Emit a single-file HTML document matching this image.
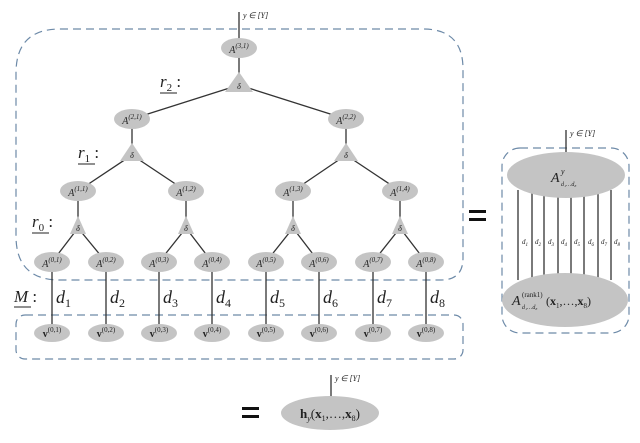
<!DOCTYPE html>
<html><head><meta charset="utf-8"><style>
html,body{margin:0;padding:0;background:#fff;}
svg{display:block;font-family:"Liberation Serif",serif;}
.e{fill:#c4c4c4;}
.l{stroke:#333;stroke-width:1.3;fill:none;}
.d{fill:none;stroke:#6d8aa8;stroke-width:1.2;stroke-dasharray:8,5;}
.t{font-style:italic;fill:#222;}
</style></head><body>
<svg width="640" height="443" viewBox="0 0 640 443" xmlns="http://www.w3.org/2000/svg">
<path class="d" d="M60,29 H423 Q463,29 463,69 V258 Q463,280 441,280 H60 Q16,280 16,236 V73 Q16,29 60,29 Z"/>
<rect class="d" x="16" y="315" width="447" height="44" rx="9"/>
<rect class="d" x="502" y="148" width="127" height="185" rx="18"/>
<g class="l">
<line x1="239" y1="12" x2="239" y2="85"/>
<line x1="239" y1="85" x2="132" y2="119"/><line x1="239" y1="85" x2="346" y2="119"/>
<line x1="132" y1="119" x2="132" y2="155"/><line x1="346" y1="119" x2="346" y2="155"/>
<line x1="132" y1="155" x2="78" y2="191"/><line x1="132" y1="155" x2="186" y2="191"/>
<line x1="346" y1="155" x2="293" y2="191"/><line x1="346" y1="155" x2="400" y2="191"/>
<line x1="78" y1="191" x2="78" y2="228"/><line x1="186" y1="191" x2="186" y2="228"/>
<line x1="293" y1="191" x2="293" y2="228"/><line x1="400" y1="191" x2="400" y2="228"/>
<line x1="78" y1="228" x2="52" y2="262"/><line x1="78" y1="228" x2="106" y2="262"/>
<line x1="186" y1="228" x2="159" y2="262"/><line x1="186" y1="228" x2="212" y2="262"/>
<line x1="293" y1="228" x2="266" y2="262"/><line x1="293" y1="228" x2="319" y2="262"/>
<line x1="400" y1="228" x2="373" y2="262"/><line x1="400" y1="228" x2="426" y2="262"/>
<line x1="52" y1="262" x2="52" y2="333"/><line x1="106" y1="262" x2="106" y2="333"/>
<line x1="159" y1="262" x2="159" y2="333"/><line x1="212" y1="262" x2="212" y2="333"/>
<line x1="266" y1="262" x2="266" y2="333"/><line x1="319" y1="262" x2="319" y2="333"/>
<line x1="373" y1="262" x2="373" y2="333"/><line x1="426" y1="262" x2="426" y2="333"/>
<line x1="566" y1="130" x2="566" y2="158"/>
<line x1="518" y1="190" x2="518" y2="280"/><line x1="532" y1="190" x2="532" y2="280"/>
<line x1="544" y1="190" x2="544" y2="280"/><line x1="558" y1="190" x2="558" y2="280"/>
<line x1="571" y1="190" x2="571" y2="280"/><line x1="584" y1="190" x2="584" y2="280"/>
<line x1="598" y1="190" x2="598" y2="280"/><line x1="611" y1="190" x2="611" y2="280"/>
<line x1="331" y1="375" x2="331" y2="397"/>
</g>
<g class="e">
<polygon points="239,72 225,92 253,92"/>
<polygon points="132,143 120,161 144,161"/><polygon points="346,143 334,161 358,161"/>
<polygon points="78,216 70,234 86,234"/><polygon points="186,216 178,234 194,234"/>
<polygon points="293,216 285,234 301,234"/><polygon points="400,216 392,234 408,234"/>
</g>
<g font-size="8" class="t" text-anchor="middle">
<text x="239" y="89">δ</text><text x="132" y="158">δ</text><text x="346" y="158">δ</text>
<text x="78" y="231">δ</text><text x="186" y="231">δ</text><text x="293" y="231">δ</text><text x="400" y="231">δ</text>
</g>
<g class="e">
<ellipse cx="239" cy="48" rx="18" ry="10"/>
<ellipse cx="132" cy="119" rx="18" ry="10"/><ellipse cx="346" cy="119" rx="18" ry="10"/>
<ellipse cx="78" cy="191" rx="18" ry="10"/><ellipse cx="186" cy="191" rx="18" ry="10"/>
<ellipse cx="293" cy="191" rx="18" ry="10"/><ellipse cx="400" cy="191" rx="18" ry="10"/>
<ellipse cx="52" cy="262" rx="18" ry="10"/><ellipse cx="106" cy="262" rx="18" ry="10"/>
<ellipse cx="159" cy="262" rx="18" ry="10"/><ellipse cx="212" cy="262" rx="18" ry="10"/>
<ellipse cx="266" cy="262" rx="18" ry="10"/><ellipse cx="319" cy="262" rx="18" ry="10"/>
<ellipse cx="373" cy="262" rx="18" ry="10"/><ellipse cx="426" cy="262" rx="18" ry="10"/>
<ellipse cx="52" cy="333" rx="18" ry="9"/><ellipse cx="106" cy="333" rx="18" ry="9"/>
<ellipse cx="159" cy="333" rx="18" ry="9"/><ellipse cx="212" cy="333" rx="18" ry="9"/>
<ellipse cx="266" cy="333" rx="18" ry="9"/><ellipse cx="319" cy="333" rx="18" ry="9"/>
<ellipse cx="373" cy="333" rx="18" ry="9"/><ellipse cx="426" cy="333" rx="18" ry="9"/>
<ellipse cx="566" cy="175" rx="59" ry="23"/>
<ellipse cx="565" cy="300" rx="63" ry="27"/>
<ellipse cx="330" cy="413" rx="49" ry="17"/>
</g>
<g font-size="10" class="t" text-anchor="middle">
<text x="239" y="53">A<tspan font-size="7" dy="-5">(3,1)</tspan></text>
<text x="132" y="124">A<tspan font-size="7" dy="-5">(2,1)</tspan></text>
<text x="346" y="124">A<tspan font-size="7" dy="-5">(2,2)</tspan></text>
<text x="78" y="196">A<tspan font-size="7" dy="-5">(1,1)</tspan></text>
<text x="186" y="196">A<tspan font-size="7" dy="-5">(1,2)</tspan></text>
<text x="293" y="196">A<tspan font-size="7" dy="-5">(1,3)</tspan></text>
<text x="400" y="196">A<tspan font-size="7" dy="-5">(1,4)</tspan></text>
<text x="52" y="267">A<tspan font-size="7" dy="-5">(0,1)</tspan></text>
<text x="106" y="267">A<tspan font-size="7" dy="-5">(0,2)</tspan></text>
<text x="159" y="267">A<tspan font-size="7" dy="-5">(0,3)</tspan></text>
<text x="212" y="267">A<tspan font-size="7" dy="-5">(0,4)</tspan></text>
<text x="266" y="267">A<tspan font-size="7" dy="-5">(0,5)</tspan></text>
<text x="319" y="267">A<tspan font-size="7" dy="-5">(0,6)</tspan></text>
<text x="373" y="267">A<tspan font-size="7" dy="-5">(0,7)</tspan></text>
<text x="426" y="267">A<tspan font-size="7" dy="-5">(0,8)</tspan></text>
</g>
<g font-size="10" text-anchor="middle" fill="#222">
<text x="52" y="337"><tspan font-weight="bold">v</tspan><tspan font-size="7" dy="-5">(0,1)</tspan></text>
<text x="106" y="337"><tspan font-weight="bold">v</tspan><tspan font-size="7" dy="-5">(0,2)</tspan></text>
<text x="159" y="337"><tspan font-weight="bold">v</tspan><tspan font-size="7" dy="-5">(0,3)</tspan></text>
<text x="212" y="337"><tspan font-weight="bold">v</tspan><tspan font-size="7" dy="-5">(0,4)</tspan></text>
<text x="266" y="337"><tspan font-weight="bold">v</tspan><tspan font-size="7" dy="-5">(0,5)</tspan></text>
<text x="319" y="337"><tspan font-weight="bold">v</tspan><tspan font-size="7" dy="-5">(0,6)</tspan></text>
<text x="373" y="337"><tspan font-weight="bold">v</tspan><tspan font-size="7" dy="-5">(0,7)</tspan></text>
<text x="426" y="337"><tspan font-weight="bold">v</tspan><tspan font-size="7" dy="-5">(0,8)</tspan></text>
</g>
<g font-size="18" class="t">
<text x="56" y="303">d<tspan font-size="12" font-style="normal" dy="4">1</tspan></text>
<text x="110" y="303">d<tspan font-size="12" font-style="normal" dy="4">2</tspan></text>
<text x="163" y="303">d<tspan font-size="12" font-style="normal" dy="4">3</tspan></text>
<text x="216" y="303">d<tspan font-size="12" font-style="normal" dy="4">4</tspan></text>
<text x="270" y="303">d<tspan font-size="12" font-style="normal" dy="4">5</tspan></text>
<text x="323" y="303">d<tspan font-size="12" font-style="normal" dy="4">6</tspan></text>
<text x="377" y="303">d<tspan font-size="12" font-style="normal" dy="4">7</tspan></text>
<text x="430" y="303">d<tspan font-size="12" font-style="normal" dy="4">8</tspan></text>
</g>
<g font-size="17" class="t">
<text x="160" y="87">r<tspan font-size="11" font-style="normal" dy="4">2</tspan><tspan dy="-4" font-style="normal"> :</tspan></text>
<line x1="160" y1="93" x2="177" y2="93" stroke="#222" stroke-width="1"/>
<text x="78" y="158">r<tspan font-size="11" font-style="normal" dy="4">1</tspan><tspan dy="-4" font-style="normal"> :</tspan></text>
<line x1="78" y1="164" x2="95" y2="164" stroke="#222" stroke-width="1"/>
<text x="32" y="227">r<tspan font-size="11" font-style="normal" dy="4">0</tspan><tspan dy="-4" font-style="normal"> :</tspan></text>
<line x1="32" y1="233" x2="49" y2="233" stroke="#222" stroke-width="1"/>
<text x="14" y="302">M<tspan font-style="normal"> :</tspan></text>
<line x1="14" y1="307" x2="31" y2="307" stroke="#222" stroke-width="1"/>
</g>
<g font-size="8" class="t">
<text x="243" y="18">y ∈ [Y]</text>
<text x="570" y="136">y ∈ [Y]</text>
<text x="335" y="381">y ∈ [Y]</text>
</g>
<g font-size="7" class="t" text-anchor="middle">
<text x="525" y="244">d<tspan font-size="5" dy="2">1</tspan></text>
<text x="538" y="244">d<tspan font-size="5" dy="2">2</tspan></text>
<text x="551" y="244">d<tspan font-size="5" dy="2">3</tspan></text>
<text x="564" y="244">d<tspan font-size="5" dy="2">4</tspan></text>
<text x="577" y="244">d<tspan font-size="5" dy="2">5</tspan></text>
<text x="591" y="244">d<tspan font-size="5" dy="2">6</tspan></text>
<text x="604" y="244">d<tspan font-size="5" dy="2">7</tspan></text>
<text x="617" y="244">d<tspan font-size="5" dy="2">8</tspan></text>
</g>
<!-- right ellipse labels -->
<text x="551" y="182" font-size="14" class="t">A</text>
<text x="561" y="174" font-size="8" class="t">y</text>
<text x="561" y="186" font-size="6" class="t">d₁…d₈</text>
<text x="512" y="305" font-size="14" class="t">A</text>
<text x="522" y="297" font-size="7" fill="#222">(rank1)</text>
<text x="522" y="309" font-size="6" class="t">d₁…d₈</text>
<text x="546" y="305" font-size="12" fill="#222">(<tspan font-weight="bold">x</tspan><tspan font-size="7" dy="3">1</tspan><tspan dy="-3">,…,</tspan><tspan font-weight="bold">x</tspan><tspan font-size="7" dy="3">8</tspan><tspan dy="-3">)</tspan></text>
<text x="330" y="418" font-size="13" fill="#222" text-anchor="middle"><tspan font-weight="bold">h</tspan><tspan font-size="8" font-style="italic" dy="3">y</tspan><tspan dy="-3">(</tspan><tspan font-weight="bold">x</tspan><tspan font-size="8" dy="3">1</tspan><tspan dy="-3">,…,</tspan><tspan font-weight="bold">x</tspan><tspan font-size="8" dy="3">8</tspan><tspan dy="-3">)</tspan></text>
<g fill="#111">
<rect x="469" y="210" width="17" height="3"/><rect x="469" y="218" width="17" height="3"/>
<rect x="242" y="407" width="17" height="3"/><rect x="242" y="415" width="17" height="3"/>
</g>
</svg>
</body></html>
